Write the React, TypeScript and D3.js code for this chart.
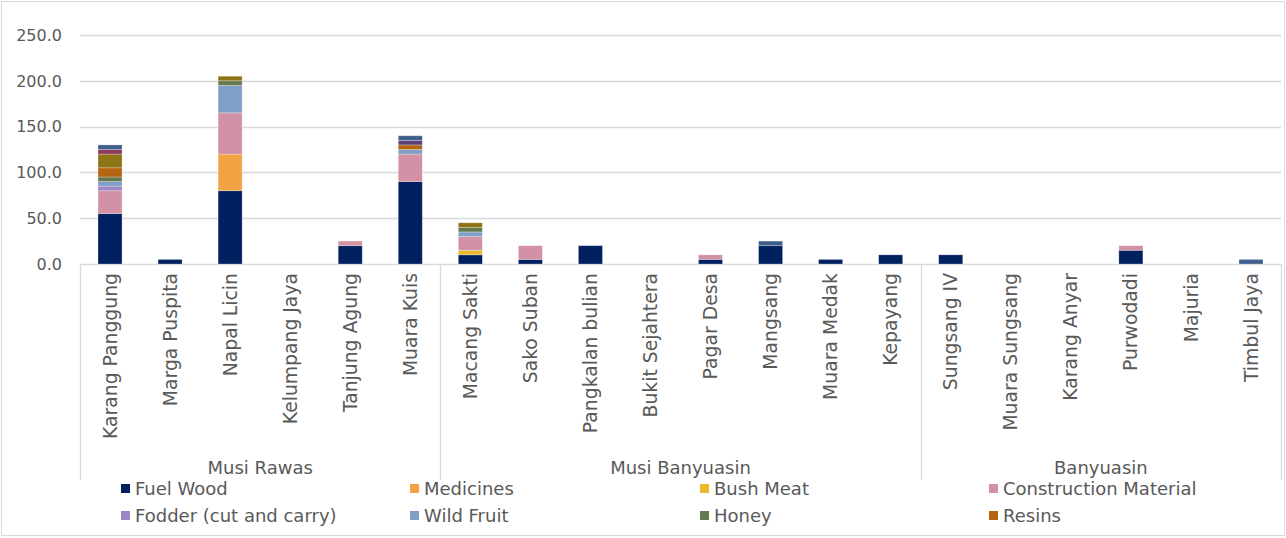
import React from "react";
import * as d3 from "d3";

const categories = [
  "Karang Panggung", "Marga Puspita", "Napal Licin", "Kelumpang Jaya", "Tanjung Agung", "Muara Kuis",
  "Macang Sakti", "Sako Suban", "Pangkalan bulian", "Bukit Sejahtera", "Pagar Desa", "Mangsang", "Muara Medak", "Kepayang",
  "Sungsang IV", "Muara Sungsang", "Karang Anyar", "Purwodadi", "Majuria", "Timbul Jaya",
];
const groups = [
  { name: "Musi Rawas", start: 0, end: 6 },
  { name: "Musi Banyuasin", start: 6, end: 14 },
  { name: "Banyuasin", start: 14, end: 20 },
];

const fuelWood = [55, 5, 80, 0, 20, 90, 10, 5, 20, 0, 5, 20, 5, 10, 10, 0, 0, 15, 0, 0];
const medicines = [0, 0, 40, 0, 0, 0, 0, 0, 0, 0, 0, 0, 0, 0, 0, 0, 0, 0, 0, 0];
const bushMeat = [0, 0, 0, 0, 0, 0, 5, 0, 0, 0, 0, 0, 0, 0, 0, 0, 0, 0, 0, 0];
const construction = [25, 0, 45, 0, 5, 30, 15, 15, 0, 0, 5, 0, 0, 0, 0, 0, 0, 5, 0, 0];
const fodder = [5, 0, 0, 0, 0, 0, 0, 0, 0, 0, 0, 0, 0, 0, 0, 0, 0, 0, 0, 0];
const wildFruit = [5, 0, 30, 0, 0, 5, 5, 0, 0, 0, 0, 0, 0, 0, 0, 0, 0, 0, 0, 0];
const honey = [5, 0, 5, 0, 0, 0, 5, 0, 0, 0, 0, 0, 0, 0, 0, 0, 0, 0, 0, 0];
const resins = [10, 0, 0, 0, 0, 5, 0, 0, 0, 0, 0, 0, 0, 0, 0, 0, 0, 0, 0, 0];
const handicraft = [15, 0, 5, 0, 0, 0, 5, 0, 0, 0, 0, 0, 0, 0, 0, 0, 0, 0, 0, 0];
const ornamental = [5, 0, 0, 0, 0, 0, 0, 0, 0, 0, 0, 0, 0, 0, 0, 0, 0, 0, 0, 0];
const rattan = [0, 0, 0, 0, 0, 5, 0, 0, 0, 0, 0, 0, 0, 0, 0, 0, 0, 0, 0, 0];
const others = [5, 0, 0, 0, 0, 5, 0, 0, 0, 0, 0, 5, 0, 0, 0, 0, 0, 0, 0, 5];

const seriesNames = [
  "Fuel Wood", "Medicines", "Bush Meat", "Construction Material",
  "Fodder (cut and carry)", "Wild Fruit", "Honey", "Resins",
  "Handicraft", "Ornamental Plants", "Rattan", "Others",
];
const seriesValues = [fuelWood, medicines, bushMeat, construction, fodder, wildFruit, honey, resins, handicraft, ornamental, rattan, others];
const seriesColors = [
  "#002060", "#F2A344", "#E9BB2A", "#D291A5",
  "#9E86C6", "#809FC6", "#677A4F", "#B5640F",
  "#8E7415", "#8E3B5C", "#5A3F78", "#3F5F8C",
];
const yTicks = [0, 50, 100, 150, 200, 250];
const legendCount = 8;

const W = 1286;
const H = 538;
const FONT = "'DejaVu Sans', sans-serif";
const TEXT = "#595959";
const GRID = "#d9d9d9";

export default function App() {
  const x = d3.scaleBand<string>().domain(categories).range([80, 1281]).paddingInner(0.6).paddingOuter(0.3);
  const y = d3.scaleLinear().domain([0, 250]).range([264, 35]);

  const table = categories.map((c, i) => {
    const row: any = { cat: c };
    seriesNames.forEach((s, k) => (row[s] = seriesValues[k][i]));
    return row;
  });
  const stacked = d3.stack<any>().keys(seriesNames)(table);

  const step = x.step();
  const bx = (i: number) => 80 + i * step;
  const legendCols = [121, 410, 700, 989];

  return (
    <div style={{ position: "absolute", left: 0, top: 0 }}>
      <svg width={W} height={H} style={{ display: "block", fontFamily: FONT }}>
        <rect x={0} y={0} width={W} height={H} fill="#fff" />
        <rect x={1.5} y={1.5} width={1283} height={534} fill="none" stroke={GRID} strokeWidth={1} />
        {yTicks.map((t) => (
          <g key={t}>
            <line x1={80} x2={1281} y1={Math.round(y(t)) + 0.5} y2={Math.round(y(t)) + 0.5} stroke={GRID} strokeWidth={1.3} />
            <text x={62} y={y(t)} dy="0.36em" textAnchor="end" fontSize={16} fill={TEXT}>
              {d3.format(".1f")(t)}
            </text>
          </g>
        ))}
        {stacked.map((layer, k) => (
          <g key={layer.key} fill={seriesColors[k]}>
            {layer.map((d, i) =>
              d[1] - d[0] > 0 ? (
                <rect
                  key={i}
                  x={x(categories[i])}
                  width={x.bandwidth()}
                  y={y(d[1])}
                  height={y(d[0]) - y(d[1])}
                  stroke="#ffffff"
                  strokeOpacity={0.35}
                  strokeWidth={0.75}
                />
              ) : null
            )}
          </g>
        ))}
        {[0, 6, 14, 20].map((i) => (
          <line key={i} x1={Math.round(bx(i)) + 0.5} x2={Math.round(bx(i)) + 0.5} y1={264} y2={480} stroke={GRID} strokeWidth={1.3} />
        ))}
        {categories.map((c) => {
          const cx = (x(c) as number) + x.bandwidth() / 2;
          return (
            <text
              key={c}
              transform={`translate(${cx},${273}) rotate(-90)`}
              dy="0.35em"
              textAnchor="end"
              fontSize={18.8}
              fill={TEXT}
            >
              {c}
            </text>
          );
        })}
        {groups.map((g) => (
          <text key={g.name} x={(bx(g.start) + bx(g.end)) / 2} y={474} textAnchor="middle" fontSize={18} fill={TEXT}>
            {g.name}
          </text>
        ))}
        {seriesNames.slice(0, legendCount).map((s, k) => {
          const col = k % 4;
          const row = Math.floor(k / 4);
          const lx = legendCols[col];
          const ly = 484 + row * 27;
          return (
            <g key={s}>
              <rect x={lx} y={ly} width={9} height={9} fill={seriesColors[k]} />
              <text x={lx + 14} y={ly + 4.5} dy="0.36em" fontSize={18} fill={TEXT}>
                {s}
              </text>
            </g>
          );
        })}
      </svg>
    </div>
  );
}
